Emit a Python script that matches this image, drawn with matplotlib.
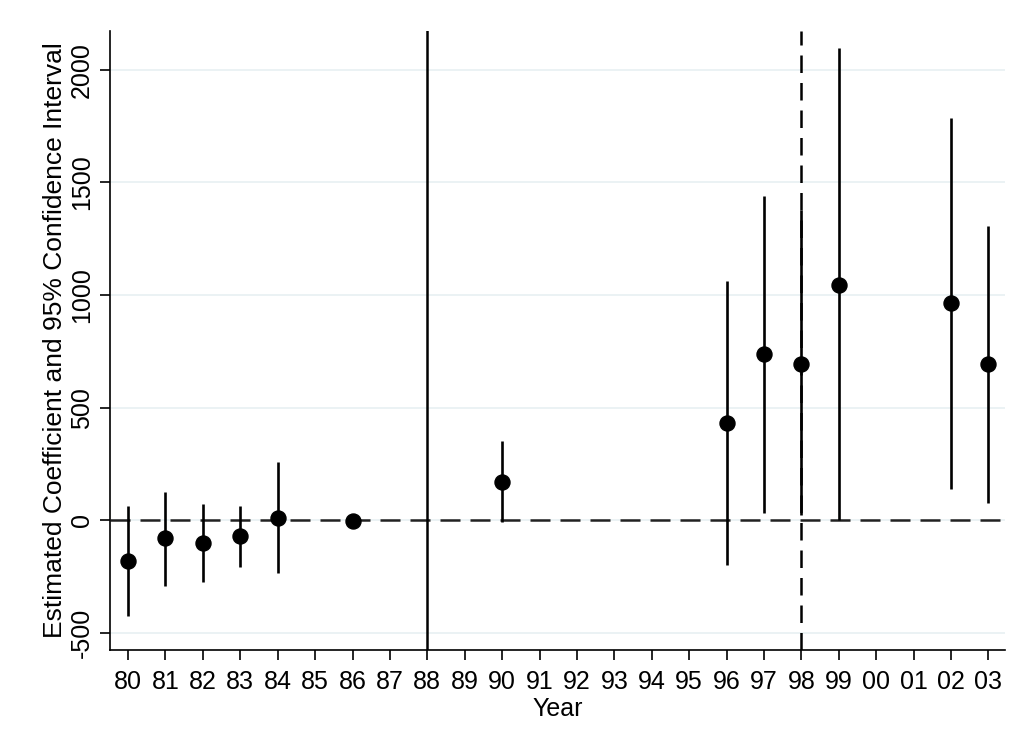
import matplotlib
matplotlib.use("Agg")
import matplotlib.pyplot as plt
import numpy as np

plt.rcParams['font.family'] = ['Liberation Sans', 'DejaVu Sans']

year_labels = ["80", "81", "82", "83", "84", "85", "86", "87", "88", "89", "90", "91",
               "92", "93", "94", "95", "96", "97", "98", "99", "00", "01", "02", "03"]
point_years = ["80", "81", "82", "83", "84", "86", "90", "96", "97", "98", "99", "02", "03"]
estimates = [-180, -81, -100, -72, 10, -4, 170, 433, 738, 693, 1045, 962, 692]
ci_lower = [-424, -293, -276, -207, -235, -4, -7, -197, 34, 22, 2, 140, 75]
ci_upper = [62, 127, 74, 62, 257, -4, 352, 1063, 1440, 1375, 2096, 1786, 1307]
y_ticks = [-500, 0, 500, 1000, 1500, 2000]
solid_year = "88"
dashed_year = "98"

fig = plt.figure(figsize=(10.29, 7.46), dpi=100)
ax = fig.add_axes([0.107, 0.129, 0.870, 0.829])

xpos = [year_labels.index(y) for y in point_years]

for yv in y_ticks:
    ax.axhline(yv, color='#E8F0F2', lw=1.2, zorder=0)

ax.axhline(0, color='#222222', lw=1.8, ls=(0, (8, 4)), zorder=1)
ax.axvline(year_labels.index(solid_year), color='black', lw=1.8, zorder=1)
ax.axvline(year_labels.index(dashed_year), color='black', lw=1.8, ls=(0, (7, 4)), zorder=1)

ax.vlines(xpos, ci_lower, ci_upper, color='black', lw=1.9, zorder=2)
ax.plot(xpos, estimates, 'o', color='black', markersize=10.8, zorder=3)

fs = 18
ax.set_xlim(-0.48, 23.45)
ax.set_ylim(-575, 2170)
ax.set_xticks(range(len(year_labels)))
ax.set_xticklabels(year_labels, fontsize=fs)
ax.set_yticks(y_ticks)
ax.set_yticklabels([str(v) for v in y_ticks], fontsize=fs, rotation=90, va='center')
ax.set_xlabel("Year", fontsize=fs, labelpad=2)
ax.set_ylabel("Estimated Coefficient and 95% Confidence Interval", fontsize=19, labelpad=2)

for s in ['top', 'right']:
    ax.spines[s].set_visible(False)
for s in ['left', 'bottom']:
    ax.spines[s].set_linewidth(1.2)
ax.tick_params(axis='both', direction='out', length=7.5, width=1.2)
ax.tick_params(axis='x', pad=7)
ax.tick_params(axis='y', pad=4)

fig.savefig("out.png", dpi=100)
